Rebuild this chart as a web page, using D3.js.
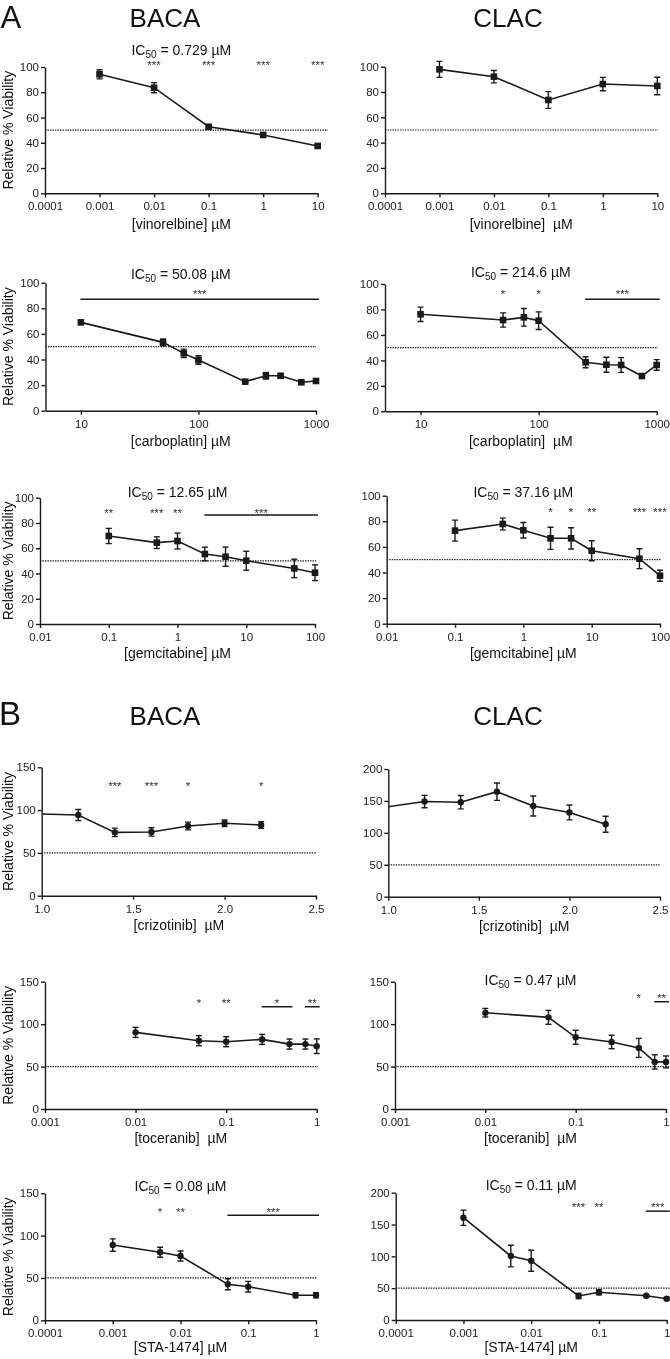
<!DOCTYPE html>
<html><head><meta charset="utf-8">
<script src="https://cdn.jsdelivr.net/npm/d3@7"></script>
<style>
html,body{margin:0;padding:0;background:#fff;}
svg{will-change:transform;}
svg text{font-family:'Liberation Sans',Arial,Helvetica,sans-serif;}
</style></head><body>
<svg id="chart" width="670" height="1359"></svg>
<script>
// ---------------- DATA ----------------
// Panel A
const vinorelbineConc = [0.001, 0.01, 0.1, 1, 10];
const vinorelbineBACA = [94.2, 83.6, 52.7, 46.2, 37.5];
const vinorelbineBACAErr = [3.6, 4.0, 1.2, 1.2, 1.2];
const vinorelbineCLAC = [97.9, 92.1, 73.7, 86.3, 84.8];
const vinorelbineCLACErr = [6.3, 4.9, 6.6, 5.3, 6.9];

const carboplatinConc = [10, 50, 75, 100, 250, 375, 500, 750, 1000];
const carboplatinBACA = [69, 53.4, 44.8, 39.6, 22.7, 27.3, 27.3, 22.2, 23.2];
const carboplatinBACAErr = [1.5, 2.6, 3.3, 3.3, 1, 2.6, 1.5, 1, 1.5];
const carboplatinCLAC = [76.2, 71.7, 73.8, 71.2, 38.5, 36.6, 36.4, 27.7, 36.4];
const carboplatinCLACErr = [5.6, 5.6, 6.9, 6.9, 4.3, 5.9, 5.8, 1.5, 4.2];

const gemcitabineConc = [0.1, 0.5, 1, 2.5, 5, 10, 50, 100];
const gemcitabineBACA = [69.7, 64.4, 65.7, 55.4, 53.3, 50.1, 44, 40.6];
const gemcitabineBACAErr = [6, 4.6, 6.3, 5.4, 7.6, 7.5, 7.3, 6.2];
const gemcitabineCLAC = [72.7, 77.9, 73, 66.7, 66.7, 57, 50.8, 37.5];
const gemcitabineCLACErr = [8.2, 4.6, 6.1, 8.6, 8.3, 7.8, 7.8, 4.3];

// Panel B
const crizotinibConc = [0.8, 1.2, 1.4, 1.6, 1.8, 2.0, 2.2];
const crizotinibBACA = [96.5, 94.3, 74, 74.5, 81.4, 84.6, 82.6];
const crizotinibBACAErr = [0, 6.4, 4.9, 4.9, 4.5, 3.9, 3.9];
const crizotinibCLAC = [133, 149, 148, 164.5, 142, 132, 113.5];
const crizotinibCLACErr = [0, 9.7, 10.4, 13.6, 15.7, 11.7, 12.5];

const toceranibConc = [0.01, 0.05, 0.1, 0.25, 0.5, 0.75, 1];
const toceranibBACA = [90.3, 80.5, 79.3, 82, 76.5, 76.5, 74];
const toceranibBACAErr = [5.9, 5.9, 5.9, 5.9, 5.9, 5.9, 8.6];
const toceranibCLAC = [113.5, 108, 84.5, 79, 72, 55.5, 55.5];
const toceranibCLACErr = [5.1, 8.2, 8.2, 7.9, 11.2, 8.4, 7];

const sta1474Conc = [0.001, 0.005, 0.01, 0.05, 0.1, 0.5, 1];
const sta1474BACA = [88.9, 80.3, 76, 42.5, 39.7, 29.5, 29.5];
const sta1474BACAErr = [7.3, 5.9, 5.9, 6.5, 6.3, 3, 3];
const sta1474CLAC = [160.7, 100.5, 93, 37.7, 43.5, 38, 33.5];
const sta1474CLACErr = [12, 17, 16.5, 4.2, 4, 2, 2];

// Ticks
const vinorelbineTicks = [0.0001, 0.001, 0.01, 0.1, 1, 10];
const vinorelbineTickLabels = ["0.0001", "0.001", "0.01", "0.1", "1", "10"];
const carboplatinTicks = [10, 100, 1000];
const carboplatinTickLabels = ["10", "100", "1000"];
const gemcitabineTicks = [0.01, 0.1, 1, 10, 100];
const gemcitabineTickLabels = ["0.01", "0.1", "1", "10", "100"];
const crizotinibTicks = [1.0, 1.5, 2.0, 2.5];
const crizotinibTickLabels = ["1.0", "1.5", "2.0", "2.5"];
const toceranibTicks = [0.001, 0.01, 0.1, 1];
const toceranibTickLabels = ["0.001", "0.01", "0.1", "1"];
const sta1474Ticks = [0.0001, 0.001, 0.01, 0.1, 1];
const sta1474TickLabels = ["0.0001", "0.001", "0.01", "0.1", "1"];
const yTicks100 = [0, 20, 40, 60, 80, 100];
const yTicks150 = [0, 50, 100, 150];
const yTicks200 = [0, 50, 100, 150, 200];

// Significance marks
const vinorelbineBACAStarConc = [0.01, 0.1, 1, 10];
const vinorelbineBACAStarLabels = ["***", "***", "***", "***"];
const carboplatinBACABrackets = [[10, 1000, "***"]];
const carboplatinCLACStarConc = [50, 100];
const carboplatinCLACStarLabels = ["*", "*"];
const carboplatinCLACBrackets = [[250, 1000, "***"]];
const gemcitabineBACAStarConc = [0.1, 0.5, 1];
const gemcitabineBACAStarLabels = ["**", "***", "**"];
const gemcitabineBACABrackets = [[2.5, 100, "***"]];
const gemcitabineCLACStarConc = [2.5, 5, 10, 50, 100];
const gemcitabineCLACStarLabels = ["*", "*", "**", "***", "***"];
const crizotinibBACAStarConc = [1.4, 1.6, 1.8, 2.2];
const crizotinibBACAStarLabels = ["***", "***", "*", "*"];
const toceranibBACAStarConc = [0.05, 0.1];
const toceranibBACAStarLabels = ["*", "**"];
const toceranibBACABrackets = [[0.25, 0.5, "*"], [0.75, 1, "**"]];
const toceranibCLACStarConc = [0.5];
const toceranibCLACStarLabels = ["*"];
const toceranibCLACBrackets = [[0.75, 1, "**"]];
const sta1474BACAStarConc = [0.005, 0.01];
const sta1474BACAStarLabels = ["*", "**"];
const sta1474BACABrackets = [[0.05, 1, "***"]];
const sta1474CLACStarConc = [0.05, 0.1];
const sta1474CLACStarLabels = ["***", "**"];
const sta1474CLACBrackets = [[0.5, 1, "***"]];

const ic50Labels = {
  vinorelbineBACA: "0.729 \u00b5M", carboplatinBACA: "50.08 \u00b5M", carboplatinCLAC: "214.6 \u00b5M",
  gemcitabineBACA: "12.65 \u00b5M", gemcitabineCLAC: "37.16 \u00b5M", toceranibCLAC: "0.47 \u00b5M",
  sta1474BACA: "0.08 \u00b5M", sta1474CLAC: "0.11 \u00b5M"
};

// ---------------- LAYOUT ----------------
const svg = d3.select("#chart");
const INK = "#1a1a1a";

const panels = [
  {conc: vinorelbineConc, mean: vinorelbineBACA, err: vinorelbineBACAErr, box: [45, 317.7, 67, 193.3], log: true, xDom: [1e-4, 10], xt: vinorelbineTicks, xtl: vinorelbineTickLabels, yMax: 100, yt: yTicks100, marker: "square", ic: ic50Labels.vinorelbineBACA, icY: 55, xLabel: "[vinorelbine] \u00b5M", xLabelY: 229, yLabel: true, sc: vinorelbineBACAStarConc, sl: vinorelbineBACAStarLabels, br: [], starV: 104, brV: 0, refEnd: 328},
  {conc: vinorelbineConc, mean: vinorelbineCLAC, err: vinorelbineCLACErr, box: [385, 657.3, 66.7, 193.3], log: true, xDom: [1e-4, 10], xt: vinorelbineTicks, xtl: vinorelbineTickLabels, yMax: 100, yt: yTicks100, marker: "square", ic: null, xLabel: "[vinorelbine]  \u00b5M", xLabelY: 229, yLabel: false, sc: [], sl: [], br: [], starV: 0, brV: 0, refEnd: 658},
  {conc: carboplatinConc, mean: carboplatinBACA, err: carboplatinBACAErr, box: [45.5, 316, 282.7, 410.7], log: true, xDom: [5, 1000], xt: carboplatinTicks, xtl: carboplatinTickLabels, yMax: 100, yt: yTicks100, marker: "square", ic: ic50Labels.carboplatinBACA, icY: 279, xLabel: "[carboplatin] \u00b5M", xLabelY: 446, yLabel: true, sc: [], sl: [], br: carboplatinBACABrackets, starV: 93, brV: 87, refEnd: 316},
  {conc: carboplatinConc, mean: carboplatinCLAC, err: carboplatinCLACErr, box: [385, 656.7, 284, 411.3], log: true, xDom: [5, 1000], xt: carboplatinTicks, xtl: carboplatinTickLabels, yMax: 100, yt: yTicks100, marker: "square", ic: ic50Labels.carboplatinCLAC, icY: 277, xLabel: "[carboplatin]  \u00b5M", xLabelY: 446, yLabel: false, sc: carboplatinCLACStarConc, sl: carboplatinCLACStarLabels, br: carboplatinCLACBrackets, starV: 94, brV: 88, refEnd: 658},
  {conc: gemcitabineConc, mean: gemcitabineBACA, err: gemcitabineBACAErr, box: [40, 315, 497.7, 624], log: true, xDom: [0.01, 100], xt: gemcitabineTicks, xtl: gemcitabineTickLabels, yMax: 100, yt: yTicks100, marker: "square", ic: ic50Labels.gemcitabineBACA, icY: 497, xLabel: "[gemcitabine] \u00b5M", xLabelY: 658, yLabel: true, sc: gemcitabineBACAStarConc, sl: gemcitabineBACAStarLabels, br: gemcitabineBACABrackets, starV: 90.3, brV: 86.3, refEnd: 316},
  {conc: gemcitabineConc, mean: gemcitabineCLAC, err: gemcitabineCLACErr, box: [386.7, 660, 495.7, 623.7], log: true, xDom: [0.01, 100], xt: gemcitabineTicks, xtl: gemcitabineTickLabels, yMax: 100, yt: yTicks100, marker: "square", ic: ic50Labels.gemcitabineCLAC, icY: 497, xLabel: "[gemcitabine] \u00b5M", xLabelY: 658, yLabel: false, sc: gemcitabineCLACStarConc, sl: gemcitabineCLACStarLabels, br: [], starV: 89, brV: 0, refEnd: 661},
  {conc: crizotinibConc, mean: crizotinibBACA, err: crizotinibBACAErr, box: [41.7, 316, 767.3, 895.7], log: false, xDom: [1, 2.5], xt: crizotinibTicks, xtl: crizotinibTickLabels, yMax: 150, yt: yTicks150, marker: "circle", ic: null, xLabel: "[crizotinib]  \u00b5M", xLabelY: 930, yLabel: true, sc: crizotinibBACAStarConc, sl: crizotinibBACAStarLabels, br: [], starV: 131.5, brV: 0, refEnd: 316.7},
  {conc: crizotinibConc, mean: crizotinibCLAC, err: crizotinibCLACErr, box: [388.3, 660, 769, 896.7], log: false, xDom: [1, 2.5], xt: crizotinibTicks, xtl: crizotinibTickLabels, yMax: 200, yt: yTicks200, marker: "circle", ic: null, xLabel: "[crizotinib]  \u00b5M", xLabelY: 931, yLabel: false, sc: [], sl: [], br: [], starV: 0, brV: 0, refEnd: 660},
  {conc: toceranibConc, mean: toceranibBACA, err: toceranibBACAErr, box: [45, 316.7, 981.7, 1109], log: true, xDom: [0.001, 1], xt: toceranibTicks, xtl: toceranibTickLabels, yMax: 150, yt: yTicks150, marker: "circle", ic: null, xLabel: "[toceranib]  \u00b5M", xLabelY: 1143, yLabel: true, sc: toceranibBACAStarConc, sl: toceranibBACAStarLabels, br: toceranibBACABrackets, starV: 128.4, brV: 120.5, refEnd: 318},
  {conc: toceranibConc, mean: toceranibCLAC, err: toceranibCLACErr, box: [395, 666, 981.7, 1109], log: true, xDom: [0.001, 1], xt: toceranibTicks, xtl: toceranibTickLabels, yMax: 150, yt: yTicks150, marker: "circle", ic: ic50Labels.toceranibCLAC, icY: 985, xLabel: "[toceranib]  \u00b5M", xLabelY: 1143, yLabel: false, sc: toceranibCLACStarConc, sl: toceranibCLACStarLabels, br: toceranibCLACBrackets, starV: 133.5, brV: 126.4, refEnd: 670},
  {conc: sta1474Conc, mean: sta1474BACA, err: sta1474BACAErr, box: [45, 316, 1193.3, 1320.3], log: true, xDom: [1e-4, 1], xt: sta1474Ticks, xtl: sta1474TickLabels, yMax: 150, yt: yTicks150, marker: "circle", ic: ic50Labels.sta1474BACA, icY: 1191, xLabel: "[STA-1474] \u00b5M", xLabelY: 1352, yLabel: true, sc: sta1474BACAStarConc, sl: sta1474BACAStarLabels, br: sta1474BACABrackets, starV: 131, brV: 124, refEnd: 316.7},
  {conc: sta1474Conc, mean: sta1474CLAC, err: sta1474CLACErr, box: [395.7, 666.7, 1192.7, 1320], log: true, xDom: [1e-4, 1], xt: sta1474Ticks, xtl: sta1474TickLabels, yMax: 200, yt: yTicks200, marker: "circle", ic: ic50Labels.sta1474CLAC, icY: 1190, xLabel: "[STA-1474] \u00b5M", xLabelY: 1352, yLabel: false, sc: sta1474CLACStarConc, sl: sta1474CLACStarLabels, br: sta1474CLACBrackets, starV: 182, brV: 171, refEnd: 670}
];

// Section headings
function heading(txt, x, y, size, anchor) {
  svg.append("text").attr("x", x).attr("y", y).attr("font-size", size)
    .attr("text-anchor", anchor).attr("fill", "#111").text(txt);
}
heading("A", 0.5, 28, 31, "start");
heading("BACA", 165, 27, 26, "middle");
heading("CLAC", 508, 27, 26, "middle");
heading("B", -1, 725, 33, "start");
heading("BACA", 165, 725, 26, "middle");
heading("CLAC", 508, 725, 26, "middle");

panels.forEach((p, i) => {
  const [x0, x1, yT, yB] = p.box;
  const x = (p.log ? d3.scaleLog() : d3.scaleLinear()).domain(p.xDom).range([x0, x1]);
  const y = d3.scaleLinear().domain([0, p.yMax]).range([yB, yT]);
  const g = svg.append("g");

  // 50% reference line
  g.append("line").attr("x1", x0).attr("x2", p.refEnd).attr("y1", y(50)).attr("y2", y(50))
    .attr("stroke", INK).attr("stroke-width", 1.2).attr("stroke-dasharray", "1.4,1.1");

  // axes
  const xa = g.append("g").attr("transform", `translate(0,${yB})`)
    .call(d3.axisBottom(x).tickValues(p.xt).tickFormat((d, k) => p.xtl[k]).tickSizeInner(4).tickSizeOuter(0).tickPadding(5));
  const ya = g.append("g").attr("transform", `translate(${x0},0)`)
    .call(d3.axisLeft(y).tickValues(p.yt).tickFormat(d => String(d)).tickSizeInner(4).tickSizeOuter(0).tickPadding(2));
  [xa, ya].forEach(a => {
    a.attr("font-family", null).attr("font-size", null);
    a.selectAll("path, line").attr("stroke", INK).attr("stroke-width", 1.4);
    a.selectAll("text").attr("font-size", 11.5).attr("fill", "#222");
  });

  // data (clipped to plotting area on the left)
  const clipId = "clip" + i;
  svg.append("clipPath").attr("id", clipId).append("rect")
    .attr("x", x0).attr("y", yT - 40).attr("width", 700 - x0).attr("height", yB - yT + 60);
  const dg = g.append("g").attr("clip-path", `url(#${clipId})`);
  const pts = p.conc.map((c, k) => ({c, m: p.mean[k], e: p.err[k]}));
  dg.append("path").datum(pts)
    .attr("d", d3.line().x(d => x(d.c)).y(d => y(d.m)))
    .attr("fill", "none").attr("stroke", INK).attr("stroke-width", 1.6);
  const eb = dg.selectAll("g.eb").data(pts.filter(d => d.e > 0)).enter().append("g");
  eb.append("line").attr("x1", d => x(d.c)).attr("x2", d => x(d.c))
    .attr("y1", d => y(d.m - d.e)).attr("y2", d => y(d.m + d.e)).attr("stroke", INK).attr("stroke-width", 1.4);
  [-1, 1].forEach(s => {
    eb.append("line").attr("x1", d => x(d.c) - 3).attr("x2", d => x(d.c) + 3)
      .attr("y1", d => y(d.m + s * d.e)).attr("y2", d => y(d.m + s * d.e)).attr("stroke", INK).attr("stroke-width", 1.4);
  });
  if (p.marker === "square") {
    dg.selectAll("rect.mk").data(pts).enter().append("rect")
      .attr("x", d => x(d.c) - 3.3).attr("y", d => y(d.m) - 3.3).attr("width", 6.6).attr("height", 6.6).attr("fill", INK);
  } else {
    dg.selectAll("circle.mk").data(pts).enter().append("circle")
      .attr("cx", d => x(d.c)).attr("cy", d => y(d.m)).attr("r", 3.2).attr("fill", INK);
  }

  // significance
  const starFs = 11.5;
  p.sc.forEach((c, k) => {
    g.append("text").attr("x", x(c)).attr("y", y(p.starV) + 0.57 * starFs).attr("font-size", starFs)
      .attr("text-anchor", "middle").attr("fill", "#333").text(p.sl[k]);
  });
  p.br.forEach(b => {
    const bx0 = x(b[0]) - 0.5, bx1 = x(b[1]) + 3;
    g.append("line").attr("x1", bx0).attr("x2", bx1).attr("y1", y(p.brV)).attr("y2", y(p.brV))
      .attr("stroke", INK).attr("stroke-width", 1.5);
    g.append("text").attr("x", (bx0 + bx1) / 2).attr("y", y(p.starV) + 0.57 * starFs).attr("font-size", starFs)
      .attr("text-anchor", "middle").attr("fill", "#333").text(b[2]);
  });

  // IC50 label
  if (p.ic) {
    const t = g.append("text").attr("x", (x0 + x1) / 2).attr("y", p.icY).attr("font-size", 14)
      .attr("text-anchor", "middle").attr("fill", "#111");
    t.append("tspan").text("IC");
    t.append("tspan").attr("font-size", 10).attr("dy", 3).text("50");
    t.append("tspan").attr("dy", -3).text(" = " + p.ic);
  }

  // axis titles
  g.append("text").attr("x", (x0 + x1) / 2).attr("y", p.xLabelY).attr("font-size", 14)
    .attr("text-anchor", "middle").attr("fill", "#111").style("white-space", "pre").text(p.xLabel);
  if (p.yLabel) {
    g.append("text").attr("transform", `translate(13,${(yT + yB) / 2}) rotate(-90)`)
      .attr("font-size", 14).attr("text-anchor", "middle").attr("fill", "#111").text("Relative % Viability");
  }
});
</script>
</body></html>
